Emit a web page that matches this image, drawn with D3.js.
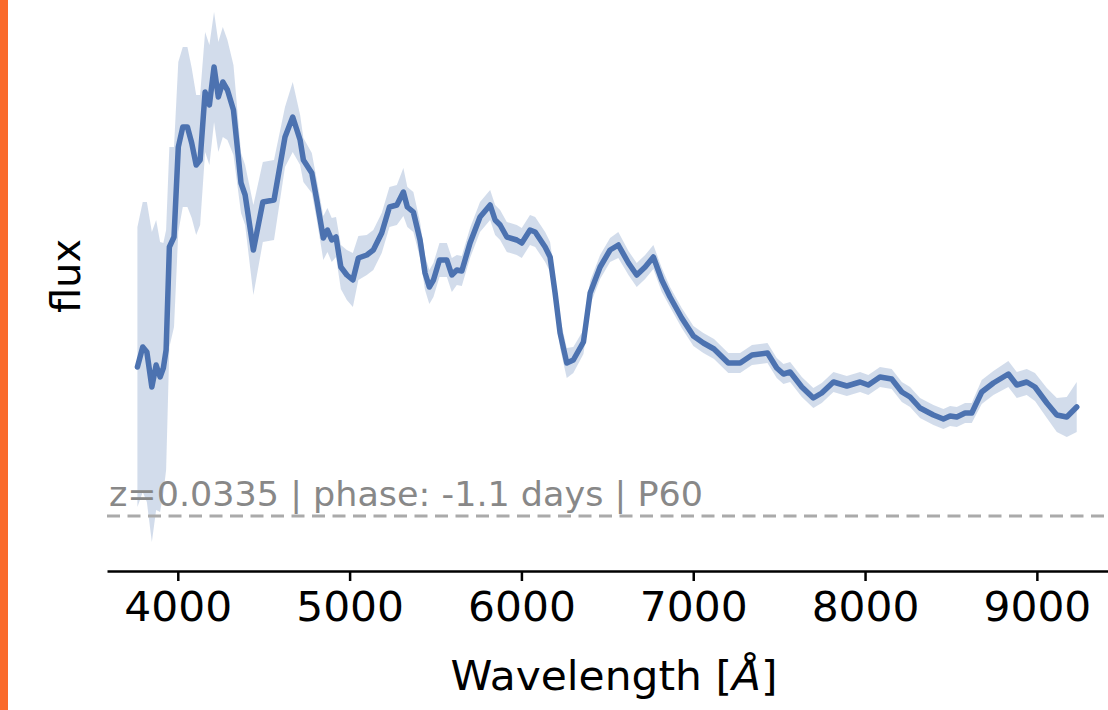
<!DOCTYPE html>
<meta charset="utf-8">
<style>
body { margin: 0; background: #fff; }
text { font-family: "DejaVu Sans", sans-serif; }
.band { fill: #4c72b0; fill-opacity: 0.25; stroke: none; }
.line { fill: none; stroke: #4c72b0; stroke-width: 5.5px; stroke-linejoin: round; stroke-linecap: round; }
</style>
<body>
<script src="https://d3js.org/d3.v7.min.js"></script>
<script>

// spectrum (wavelength in Angstrom, flux in arbitrary units)
var wavelength = [3765, 3796, 3820, 3849, 3874, 3897, 3916, 3932, 3951, 3978,
  4003, 4029, 4056, 4081, 4107, 4130, 4159, 4184, 4211, 4236,
  4262, 4289, 4324, 4368, 4392, 4440, 4495, 4560, 4624, 4669,
  4712, 4731, 4780, 4809, 4847, 4871, 4896, 4921, 4949, 4984,
  5019, 5051, 5100, 5138, 5187, 5232, 5275, 5313, 5336, 5371,
  5410, 5439, 5464, 5488, 5523, 5566, 5595, 5624, 5653, 5701,
  5759, 5818, 5847, 5876, 5915, 5973, 6002, 6050, 6080, 6138,
  6167, 6196, 6225, 6264, 6302, 6361, 6400, 6458, 6516, 6564,
  6623, 6671, 6720, 6768, 6817, 6865, 6933, 7001, 7059, 7121,
  7204, 7273, 7342, 7432, 7486, 7525, 7564, 7632, 7699, 7748,
  7816, 7894, 7971, 8019, 8087, 8155, 8214, 8262, 8320, 8398,
  8456, 8495, 8534, 8582, 8621, 8679, 8747, 8834, 8883, 8941,
  8989, 9058, 9116, 9174, 9232];

var flux = [1.49, 1.69, 1.64, 1.29, 1.51, 1.39, 1.48, 1.66, 2.69, 2.79,
  3.69, 3.89, 3.89, 3.73, 3.51, 3.56, 4.24, 4.11, 4.49, 4.19,
  4.34, 4.26, 4.06, 3.33, 3.21, 2.66, 3.14, 3.16, 3.79, 3.99,
  3.76, 3.56, 3.43, 3.16, 2.78, 2.86, 2.76, 2.79, 2.49, 2.41,
  2.36, 2.58, 2.61, 2.66, 2.83, 3.09, 3.11, 3.24, 3.09, 3.04,
  2.76, 2.43, 2.29, 2.36, 2.56, 2.56, 2.41, 2.46, 2.45, 2.73,
  2.99, 3.11, 2.96, 2.91, 2.79, 2.76, 2.73, 2.86, 2.84, 2.69,
  2.59, 2.23, 1.83, 1.53, 1.56, 1.74, 2.23, 2.49, 2.66, 2.71,
  2.53, 2.41, 2.49, 2.59, 2.36, 2.19, 1.98, 1.80, 1.73, 1.67,
  1.53, 1.53, 1.61, 1.63, 1.48, 1.42, 1.44, 1.29, 1.18, 1.23,
  1.34, 1.30, 1.34, 1.31, 1.39, 1.37, 1.24, 1.19, 1.08, 1.01,
  0.97, 1.00, 0.99, 1.03, 1.03, 1.24, 1.33, 1.42, 1.31, 1.34,
  1.29, 1.13, 1.01, 0.99, 1.09];

var fluxErr = [1.40, 1.45, 1.50, 1.55, 1.45, 1.35, 1.25, 1.20, 1.00, 0.90,
  0.85, 0.80, 0.80, 0.75, 0.70, 0.65, 0.60, 0.60, 0.55, 0.55,
  0.55, 0.50, 0.45, 0.30, 0.30, 0.45, 0.40, 0.40, 0.30, 0.35,
  0.25, 0.22, 0.20, 0.20, 0.22, 0.22, 0.22, 0.20, 0.22, 0.25,
  0.27, 0.22, 0.20, 0.20, 0.20, 0.20, 0.20, 0.24, 0.20, 0.20,
  0.18, 0.17, 0.17, 0.17, 0.17, 0.17, 0.17, 0.15, 0.15, 0.15,
  0.15, 0.15, 0.15, 0.15, 0.15, 0.15, 0.15, 0.15, 0.15, 0.15,
  0.15, 0.15, 0.15, 0.15, 0.13, 0.12, 0.12, 0.12, 0.12, 0.13,
  0.12, 0.12, 0.12, 0.12, 0.12, 0.10, 0.10, 0.10, 0.10, 0.10,
  0.10, 0.10, 0.10, 0.10, 0.10, 0.10, 0.10, 0.10, 0.10, 0.10,
  0.10, 0.10, 0.10, 0.10, 0.10, 0.10, 0.10, 0.10, 0.10, 0.10,
  0.10, 0.10, 0.10, 0.10, 0.10, 0.12, 0.12, 0.13, 0.13, 0.13,
  0.14, 0.15, 0.17, 0.20, 0.25];

var xTicks = [4000, 5000, 6000, 7000, 8000, 9000];
var offsetLevel = 0;   // dashed reference line
var infoText = "z=0.0335 | phase: -1.1 days | P60";

var W = 1108, H = 710;
var stretch = "scale(1.06,1)";  // the source picture is slightly wider than tall

var x = d3.scaleLinear().domain([3588, 9414]).range([107, 1108]);
var y = d3.scaleLinear().domain([-0.55, 5.06]).range([571, 10]);

var svg = d3.select("body").append("svg")
    .attr("width", W)
    .attr("height", H);

// orange strip on the left edge
svg.append("rect")
    .attr("x", 0).attr("y", 0)
    .attr("width", 8).attr("height", H)
    .attr("fill", "#fa6a2a");

var pts = wavelength.map(function(w, i) {
  return { w: w, f: flux[i], e: fluxErr[i] };
});

// error band
svg.append("path")
    .datum(pts)
    .attr("class", "band")
    .attr("d", d3.area()
      .x(function(d) { return x(d.w); })
      .y0(function(d) { return y(d.f - d.e); })
      .y1(function(d) { return y(d.f + d.e); }));

// dashed offset line
svg.append("line")
    .attr("x1", x.range()[0]).attr("x2", x.range()[1])
    .attr("y1", y(offsetLevel)).attr("y2", y(offsetLevel))
    .attr("stroke", "#aaaaaa")
    .attr("stroke-width", 3)
    .attr("stroke-dasharray", "13,7.5");

svg.append("text")
    .attr("transform", "translate(109," + (y(offsetLevel) - 10) + ") " + stretch)
    .attr("fill", "#888888")
    .attr("font-size", 33)
    .text(infoText);

// spectrum line
svg.append("path")
    .datum(pts)
    .attr("class", "line")
    .attr("d", d3.line()
      .x(function(d) { return x(d.w); })
      .y(function(d) { return y(d.f); }));

// x axis
var xAxis = svg.append("g")
    .attr("transform", "translate(0," + 571 + ")")
    .call(d3.axisBottom(x).tickValues(xTicks).tickSize(10).tickSizeOuter(0)
      .tickPadding(12).tickFormat(d3.format("d")));
xAxis.select(".domain").attr("stroke", "#000").attr("stroke-width", 2.5);
xAxis.selectAll(".tick line").attr("stroke", "#000").attr("stroke-width", 2.5);
xAxis.selectAll(".tick text")
    .attr("fill", "#000")
    .attr("font-size", 40)
    .attr("font-family", "DejaVu Sans, sans-serif")
    .attr("transform", stretch);

// axis labels
var xl = svg.append("text")
    .attr("transform", "translate(614,690) " + stretch)
    .attr("text-anchor", "middle")
    .attr("font-size", 40)
    .attr("fill", "#000");
xl.append("tspan").text("Wavelength [");
xl.append("tspan").attr("font-style", "italic").text("Å");
xl.append("tspan").text("]");

svg.append("text")
    .attr("transform", "translate(80,276) rotate(-90)")
    .attr("text-anchor", "middle")
    .attr("font-size", 40)
    .attr("fill", "#000")
    .text("flux");

</script>
</body>
